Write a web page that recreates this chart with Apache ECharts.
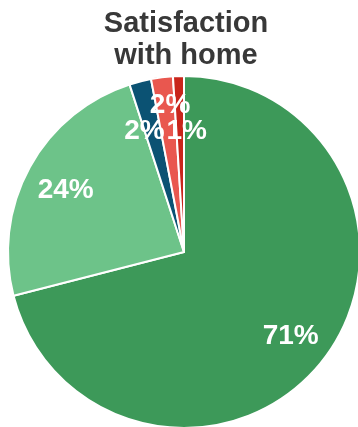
<!DOCTYPE html>
<html>
<head>
<meta charset="utf-8">
<script src="https://cdn.jsdelivr.net/npm/echarts@6/dist/echarts.min.js"></script>
<style>
  html, body { margin: 0; padding: 0; background: #ffffff; }
  #chart { width: 358px; height: 427px; }
</style>
</head>
<body>
<div id="chart"></div>
<script>
// Share of responses, clockwise from 12 o'clock
const categories = ['Very satisfied', 'Somewhat satisfied', 'Neither', 'Somewhat dissatisfied', 'Very dissatisfied'];
const shares = [71, 24, 2, 2, 1];
const colors = ['#3d9959', '#6dc389', '#0b5273', '#e9574f', '#c9251b'];
// Nudges for the crowded labels of the thin slices
const labelNudges = [[0, 2], [0, 3], [-6, 10], [3, -13], [7, 14]];

const chart = echarts.init(document.getElementById('chart'));

const slices = categories.map((name, i) => ({
  name: name,
  value: shares[i],
  itemStyle: { color: colors[i] }
}));

const labelSlices = categories.map((name, i) => ({
  name: name,
  value: shares[i],
  label: { show: true, offset: labelNudges[i] }
}));

chart.setOption({
  animation: false,
  title: {
    text: 'Satisfaction\nwith home',
    left: 181,
    top: 3,
    textAlign: 'center',
    textStyle: {
      fontFamily: 'Liberation Sans, Arial, sans-serif',
      fontWeight: 'bold',
      fontSize: 29,
      lineHeight: 32,
      color: '#383838'
    }
  },
  series: [
    {
      type: 'pie',
      center: [184, 252],
      radius: [0, 176],
      startAngle: 90,
      clockwise: true,
      silent: true,
      label: { show: false },
      labelLine: { show: false },
      itemStyle: { borderColor: '#ffffff', borderWidth: 2 },
      data: slices
    },
    {
      // transparent ring that carries the percentage labels at 3/4 radius
      type: 'pie',
      center: [184, 252],
      radius: [88, 176],
      startAngle: 90,
      clockwise: true,
      silent: true,
      avoidLabelOverlap: false,
      labelLayout: { hideOverlap: false },
      itemStyle: { color: 'rgba(0,0,0,0)', borderWidth: 0 },
      label: {
        show: true,
        position: 'inside',
        formatter: '{c}%',
        color: '#ffffff',
        fontFamily: 'Liberation Sans, Arial, sans-serif',
        fontWeight: 'bold',
        fontSize: 28
      },
      labelLine: { show: false },
      data: labelSlices
    }
  ]
});
</script>
</body>
</html>
